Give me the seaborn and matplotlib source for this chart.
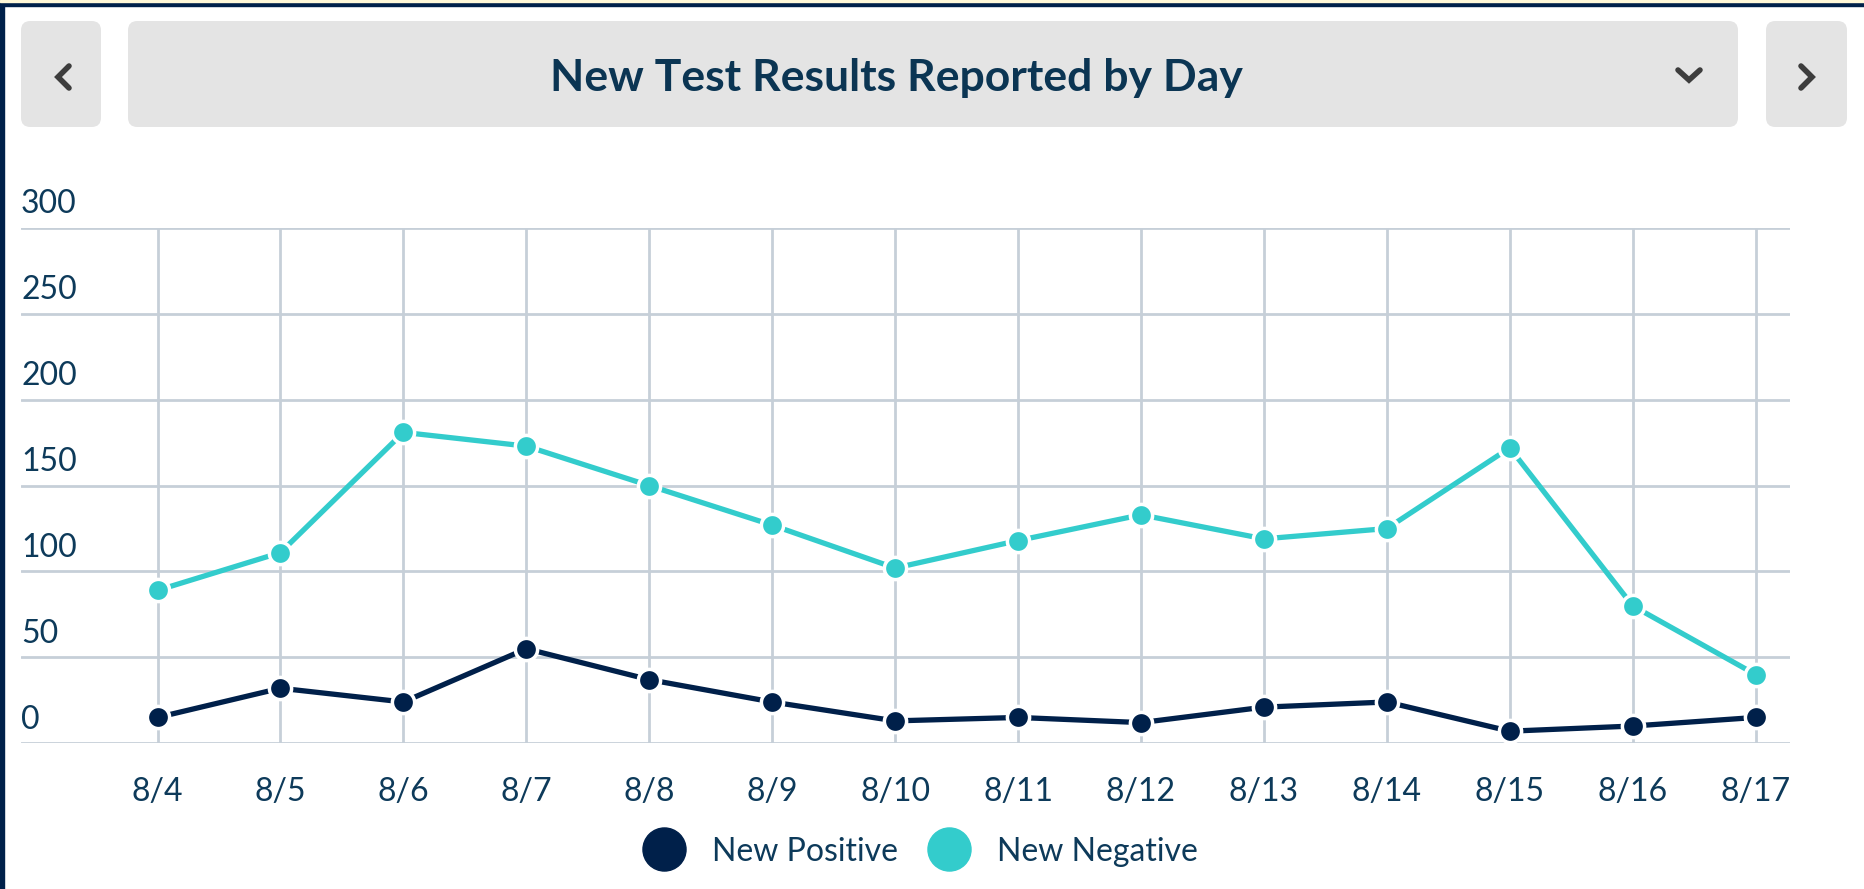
import matplotlib
matplotlib.use('Agg')
import matplotlib.pyplot as plt
from matplotlib.patches import FancyBboxPatch, Rectangle
from matplotlib.lines import Line2D
import matplotlib.transforms as mtransforms
import pandas as pd
import seaborn as sns

days = ['8/4', '8/5', '8/6', '8/7', '8/8', '8/9', '8/10',
        '8/11', '8/12', '8/13', '8/14', '8/15', '8/16', '8/17']
new_positive = [15, 32, 24, 55, 37, 24, 13, 15, 12, 21, 24, 7, 10, 15]
new_negative = [89, 111, 181, 173, 150, 127, 102, 118, 133, 119, 125, 172, 80, 40]
y_ticks = [0, 50, 100, 150, 200, 250, 300]

navy = '#00204a'
teal = '#33cccc'
text_col = '#0d3a5a'
grid_col = '#c6cfd8'

sns.set_theme(style='white')
plt.rcParams['font.family'] = ['Lato', 'DejaVu Sans']

df = pd.DataFrame({
    'day': days * 2,
    'value': new_positive + new_negative,
    'series': ['New Positive'] * len(days) + ['New Negative'] * len(days),
})

fig = plt.figure(figsize=(18.65, 8.89), dpi=100)
ax = fig.add_axes([0.0113, 0.164, 0.9485, 0.5795])

sns.lineplot(data=df, x='day', y='value', hue='series',
             palette={'New Positive': navy, 'New Negative': teal},
             marker='o', markersize=16, markeredgecolor='white',
             markeredgewidth=2.5, linewidth=3.8, legend=False, ax=ax,
             zorder=3)

ax.set_xlim(-1.11, 13.28)
ax.set_ylim(0, 300)
ax.set_yticks(y_ticks)
ax.set_yticklabels([])
ax.set_xlabel('')
ax.set_ylabel('')
for s in ax.spines.values():
    s.set_visible(False)
ax.grid(True, color=grid_col, linewidth=2)
ax.set_axisbelow(True)
ax.tick_params(axis='y', length=0)
ax.tick_params(axis='x', length=6, width=1.5, color=grid_col,
               labelsize=23, labelcolor=text_col, pad=18)

trans = mtransforms.blended_transform_factory(ax.transAxes, ax.transData)
for v in y_ticks:
    ax.text(0.0, v + 5, str(v), transform=trans, ha='left', va='bottom',
            fontsize=23, color=text_col)

# frame borders
fig.patches.append(Rectangle((0, 1 - 6 / 889), 1, 6 / 889, transform=fig.transFigure,
                             color=navy, zorder=0))
fig.patches.append(Rectangle((0, 1 - 1.5 / 889), 1, 1.5 / 889, transform=fig.transFigure,
                             color='#fff8d8', zorder=1))
fig.patches.append(Rectangle((0, 0), 4 / 1865, 1, transform=fig.transFigure,
                             color=navy, zorder=0))

# header boxes
aspect = 1865 / 889
for x0, x1 in [(21, 101), (128, 1738), (1766, 1847)]:
    fig.patches.append(FancyBboxPatch(
        (x0 / 1865, 1 - 127 / 889), (x1 - x0) / 1865, 106 / 889,
        boxstyle='round,pad=0,rounding_size=0.005', mutation_aspect=aspect,
        transform=fig.transFigure, facecolor='#e4e4e4', edgecolor='none'))

fig.text(0.4805, 0.912, 'New Test Results Reported by Day', ha='center', va='center',
         fontsize=32, fontweight='bold', color='#0b3553')

# chevrons
for pts in [[(69, 66), (58, 77), (69, 88)],
            [(1678, 70), (1689, 80), (1700, 70)],
            [(1801, 66), (1812, 77), (1801, 88)]]:
    xs = [p[0] / 1865 for p in pts]
    ys = [1 - p[1] / 889 for p in pts]
    fig.lines.append(Line2D(xs, ys, transform=fig.transFigure, color='#3d3d3d',
                            linewidth=4, solid_capstyle='round',
                            solid_joinstyle='miter'))

handles = [Line2D([], [], linestyle='none', marker='o', markersize=31,
                  markerfacecolor=c, markeredgecolor=c)
           for c in (navy, teal)]
leg = fig.legend(handles, ['New Positive', 'New Negative'], loc='center',
                 bbox_to_anchor=(0.494, 0.042), ncol=2, frameon=False,
                 fontsize=23, handletextpad=0.9, columnspacing=1.0,
                 handlelength=1.2)
for t in leg.get_texts():
    t.set_color(text_col)

fig.savefig('out.png', dpi=100, facecolor='white')
